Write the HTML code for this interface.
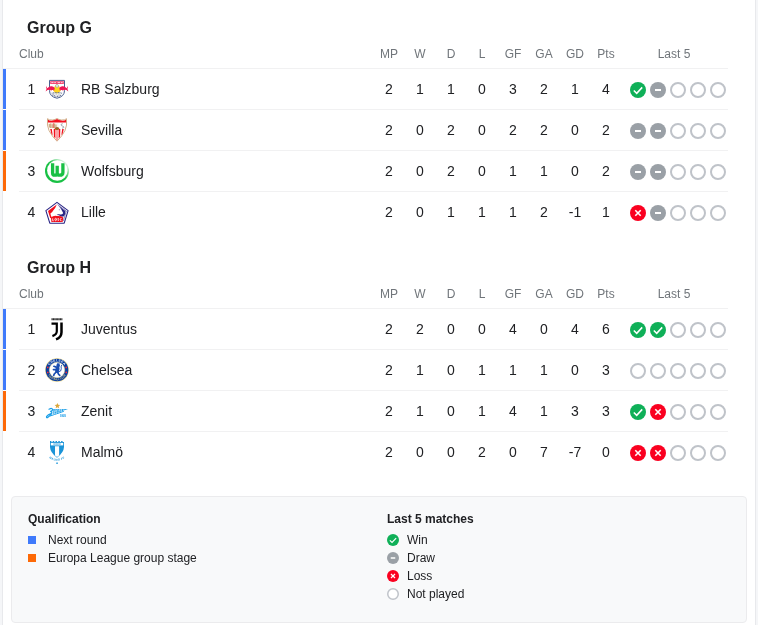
<!DOCTYPE html>
<html lang="en"><head><meta charset="utf-8"><title>Standings</title>
<style>
html,body{margin:0;padding:0}
body{width:758px;height:625px;overflow:hidden;background:#f5f6f8;font-family:"Liberation Sans",sans-serif;color:#202124;position:relative}
.card{position:absolute;left:2px;top:0;width:752px;height:625px;background:#fff;border-left:1px solid #e8e9ec;border-right:1px solid #e8e9ec}
.abs{position:absolute;white-space:nowrap}
.gt{font-weight:bold;font-size:16px;line-height:20px;left:27px;color:#202124}
.hd{font-size:12px;line-height:14px;color:#70757a}
.hc{width:40px;text-align:center}
.row{position:absolute;left:19px;width:709px;height:40px;border-top:1px solid #f1f1f2}
.bar{position:absolute;left:3px;width:3px;height:40px}
.bar.b{background:#3f7afb}.bar.o{background:#fd6907}
.t{font-size:14px;line-height:16px;color:#202124}
.n{width:40px;text-align:center}
.ic{position:absolute;display:block}
.logo{position:absolute;width:26px;height:26px}
.logo svg{display:block}
.legend{position:absolute;left:11px;top:496px;width:734px;height:125px;background:#f8f9fa;border:1px solid #ebebed;border-radius:4px}
.lh{font-weight:bold;font-size:12px;line-height:14px;color:#202124}
.lt{font-size:12px;line-height:14px;color:#202124}
.sq{position:absolute;width:8px;height:8px}
</style></head><body><div class="card"></div><div id="layer" style="position:absolute;left:0;top:0;width:758px;height:625px;will-change:transform">

<div class="abs gt" style="top:18px">Group G</div>
<div class="abs hd" style="left:19px;top:47px">Club</div>
<div class="abs hd hc" style="left:369px;top:47px">MP</div>
<div class="abs hd hc" style="left:400px;top:47px">W</div>
<div class="abs hd hc" style="left:431px;top:47px">D</div>
<div class="abs hd hc" style="left:462px;top:47px">L</div>
<div class="abs hd hc" style="left:493px;top:47px">GF</div>
<div class="abs hd hc" style="left:524px;top:47px">GA</div>
<div class="abs hd hc" style="left:555px;top:47px">GD</div>
<div class="abs hd hc" style="left:586px;top:47px">Pts</div>
<div class="abs hd" style="left:634px;width:80px;text-align:center;top:47px">Last 5</div>
<div class="row" style="top:68px;left:3px;width:725px"></div>
<div class="bar b" style="top:69px"></div>
<div class="abs t n" style="left:11.5px;top:81px">1</div>
<div class="logo" style="left:44px;top:76px"><svg width="26" height="26" viewBox="0 0 26 26"><path d="M5.500 4.400 H20.500 V14.500 Q20.500 20.700 13 22.200 Q5.500 20.700 5.500 14.500 Z" fill="#fff" stroke="#4b5f90" stroke-width="1"/><rect x="6.200" y="5.200" width="13.600" height="2.800" fill="#f2416f"/><path d="M7.300 6.600 h2.200 M10.300 6.600 h1.600 M13.600 6.600 h2.400 M16.800 6.600 h1.800" stroke="#fbd0dc" stroke-width="1"/><path d="M13 8.200 Q15.800 9.500 16.700 14.600 Q15.600 17.300 13 17.400 Q10.400 17.300 9.300 14.600 Q10.200 9.500 13 8.200Z" fill="#ffd51e"/><path transform="translate(1.7 0) scale(.87 1) translate(-1.7 0)" d="M11.900 11.700 Q10.300 9.800 7.600 10.300 Q5 10.900 3.600 12.300 Q2.700 11.600 2.300 9.700 Q1.700 11.700 2.800 13.100 Q2 14 1.700 15.400 Q3.300 13.900 4.800 13.800 Q6.300 14.300 7.200 13.700 L7.800 15.300 L8.500 13.900 Q9.600 14.200 10.600 13.800 L11.200 15.300 L11.700 13.500 Q12.300 12.700 11.900 11.700Z" fill="#ee1653"/><path transform="translate(24.3 0) scale(.87 1) translate(-24.3 0)" d="M14.100 11.700 Q15.700 9.800 18.400 10.300 Q21 10.900 22.400 12.300 Q23.300 11.600 23.700 9.700 Q24.300 11.700 23.200 13.100 Q24 14 24.300 15.400 Q22.700 13.900 21.200 13.800 Q19.700 14.300 18.800 13.700 L18.200 15.300 L17.500 13.900 Q16.400 14.200 15.400 13.800 L14.800 15.300 L14.300 13.500 Q13.700 12.700 14.100 11.700Z" fill="#ee1653"/><circle cx="13" cy="9.900" r="1.500" fill="#e6e7ea" stroke="#7d8492" stroke-width=".45"/><path d="M7.600 17.300 Q13 15.600 18.400 17.300" fill="none" stroke="#6f7891" stroke-width="1.100" stroke-dasharray="1 .6"/><path d="M8.400 18.900 Q13 21.700 17.600 18.900" fill="none" stroke="#6f7891" stroke-width="1.300" stroke-dasharray="1 .6"/><path d="M9 18 H17" fill="none" stroke="#8d95aa" stroke-width="1" stroke-dasharray=".9 .7"/></svg></div>
<div class="abs t" style="left:81px;top:81px">RB Salzburg</div>
<div class="abs t n" style="left:369px;top:81px">2</div>
<div class="abs t n" style="left:400px;top:81px">1</div>
<div class="abs t n" style="left:431px;top:81px">1</div>
<div class="abs t n" style="left:462px;top:81px">0</div>
<div class="abs t n" style="left:493px;top:81px">3</div>
<div class="abs t n" style="left:524px;top:81px">2</div>
<div class="abs t n" style="left:555px;top:81px">1</div>
<div class="abs t n" style="left:586px;top:81px">4</div>
<svg class="ic" style="left:630px;top:82px" width="16" height="16" viewBox="0 0 16 16"><circle cx="8" cy="8" r="8" fill="#0fb058"/><path d="M3.8 8.5 L6.7 11.3 L12.2 5.4" fill="none" stroke="#fff" stroke-width="1.55"/></svg>
<svg class="ic" style="left:650px;top:82px" width="16" height="16" viewBox="0 0 16 16"><circle cx="8" cy="8" r="8" fill="#9aa0a6"/><rect x="5" y="7" width="6" height="2" fill="#fff"/></svg>
<svg class="ic" style="left:670px;top:82px" width="16" height="16" viewBox="0 0 16 16"><circle cx="8" cy="8" r="7" fill="#fff" stroke="#bfc3c9" stroke-width="2"/></svg>
<svg class="ic" style="left:690px;top:82px" width="16" height="16" viewBox="0 0 16 16"><circle cx="8" cy="8" r="7" fill="#fff" stroke="#bfc3c9" stroke-width="2"/></svg>
<svg class="ic" style="left:710px;top:82px" width="16" height="16" viewBox="0 0 16 16"><circle cx="8" cy="8" r="7" fill="#fff" stroke="#bfc3c9" stroke-width="2"/></svg>
<div class="row" style="top:109px"></div>
<div class="bar b" style="top:110px"></div>
<div class="abs t n" style="left:11.5px;top:122px">2</div>
<div class="logo" style="left:44px;top:117px"><svg width="26" height="26" viewBox="0 0 26 26"><path d="M3.500 1.700 Q5 3.300 8.500 3 Q11.300 2.700 13 1.500 Q14.700 2.700 17.500 3 Q21 3.300 22.500 1.700 Q23.300 8.500 21 13.500 Q18 19.500 13 24.200 Q8 19.500 5 13.500 Q2.700 8.500 3.500 1.700Z" fill="#fff" stroke="#c79b6c" stroke-width=".8"/><path d="M4 2.700 Q5.500 3.900 8.500 3.600 Q11.300 3.300 13 2.100 Q14.700 3.300 17.500 3.600 Q20.500 3.900 22 2.700 L22.100 5.600 H3.900Z" fill="#f30f1d"/><path d="M4.300 6 H14.400 V10.600 L13 11.600 H5.200 Q4.300 8.500 4.300 6Z" fill="#fbf3ea"/><path d="M5.300 7 v3.600 M6.700 6.400 v4.600 M8.200 7.200 v3.800 M10.600 6.500 v4.500 M12 7.500 v3" stroke="#c9a276" stroke-width="1.100" fill="none"/><path d="M9.400 6.200 v4.800" stroke="#e2574d" stroke-width=".9"/><path d="M18.700 6.700 q-1.800 0-1.600 1.300 q.2 .9 1.500 1.100 q1.300 .3 1.200 1.200 q-.2 1-1.800 .8" fill="none" stroke="#9a9ca3" stroke-width=".9"/><path d="M6.200 11.900 h1.600 l.9 6.400 -1.400-1.800z M9.700 11.900 h1.700 v9.500 l-1.500-1.700z M14.600 11.900 h1.700 l-.2 7.800 -1.500 1.700z M18.200 11.900 h1.600 l-1.100 4.600 -1.400 1.800z" fill="#f30f1d"/><path d="M12.200 12 h1.600 v10.800 l-.8 .8 -.8-.8z" fill="#f98a90"/><ellipse cx="13" cy="11.400" rx="2.200" ry="1.500" fill="#9c6424"/></svg></div>
<div class="abs t" style="left:81px;top:122px">Sevilla</div>
<div class="abs t n" style="left:369px;top:122px">2</div>
<div class="abs t n" style="left:400px;top:122px">0</div>
<div class="abs t n" style="left:431px;top:122px">2</div>
<div class="abs t n" style="left:462px;top:122px">0</div>
<div class="abs t n" style="left:493px;top:122px">2</div>
<div class="abs t n" style="left:524px;top:122px">2</div>
<div class="abs t n" style="left:555px;top:122px">0</div>
<div class="abs t n" style="left:586px;top:122px">2</div>
<svg class="ic" style="left:630px;top:123px" width="16" height="16" viewBox="0 0 16 16"><circle cx="8" cy="8" r="8" fill="#9aa0a6"/><rect x="5" y="7" width="6" height="2" fill="#fff"/></svg>
<svg class="ic" style="left:650px;top:123px" width="16" height="16" viewBox="0 0 16 16"><circle cx="8" cy="8" r="8" fill="#9aa0a6"/><rect x="5" y="7" width="6" height="2" fill="#fff"/></svg>
<svg class="ic" style="left:670px;top:123px" width="16" height="16" viewBox="0 0 16 16"><circle cx="8" cy="8" r="7" fill="#fff" stroke="#bfc3c9" stroke-width="2"/></svg>
<svg class="ic" style="left:690px;top:123px" width="16" height="16" viewBox="0 0 16 16"><circle cx="8" cy="8" r="7" fill="#fff" stroke="#bfc3c9" stroke-width="2"/></svg>
<svg class="ic" style="left:710px;top:123px" width="16" height="16" viewBox="0 0 16 16"><circle cx="8" cy="8" r="7" fill="#fff" stroke="#bfc3c9" stroke-width="2"/></svg>
<div class="row" style="top:150px"></div>
<div class="bar o" style="top:151px"></div>
<div class="abs t n" style="left:11.5px;top:163px">3</div>
<div class="logo" style="left:44px;top:158px"><svg width="26" height="26" viewBox="0 0 26 26"><defs><linearGradient id="wg" x1="1" y1="0" x2="0.300" y2="0.700"><stop offset="0" stop-color="#18c044" stop-opacity="0"/><stop offset=".28" stop-color="#18c044" stop-opacity=".25"/><stop offset=".7" stop-color="#18c044" stop-opacity="1"/></linearGradient></defs><circle cx="13" cy="13" r="12" fill="url(#wg)"/><circle cx="13.350" cy="12.600" r="10.250" fill="#fff"/><path d="M8.600 5.200 V14.900 Q8.600 17.200 10.800 17.200 Q13.200 17.200 13.200 14.900 V7.800 M13.200 14.900 Q13.200 17.200 15.700 17.200 Q18.900 17.200 18.900 14.400 V5.300" fill="none" stroke="#18c044" stroke-width="3.300" stroke-linejoin="round"/></svg></div>
<div class="abs t" style="left:81px;top:163px">Wolfsburg</div>
<div class="abs t n" style="left:369px;top:163px">2</div>
<div class="abs t n" style="left:400px;top:163px">0</div>
<div class="abs t n" style="left:431px;top:163px">2</div>
<div class="abs t n" style="left:462px;top:163px">0</div>
<div class="abs t n" style="left:493px;top:163px">1</div>
<div class="abs t n" style="left:524px;top:163px">1</div>
<div class="abs t n" style="left:555px;top:163px">0</div>
<div class="abs t n" style="left:586px;top:163px">2</div>
<svg class="ic" style="left:630px;top:164px" width="16" height="16" viewBox="0 0 16 16"><circle cx="8" cy="8" r="8" fill="#9aa0a6"/><rect x="5" y="7" width="6" height="2" fill="#fff"/></svg>
<svg class="ic" style="left:650px;top:164px" width="16" height="16" viewBox="0 0 16 16"><circle cx="8" cy="8" r="8" fill="#9aa0a6"/><rect x="5" y="7" width="6" height="2" fill="#fff"/></svg>
<svg class="ic" style="left:670px;top:164px" width="16" height="16" viewBox="0 0 16 16"><circle cx="8" cy="8" r="7" fill="#fff" stroke="#bfc3c9" stroke-width="2"/></svg>
<svg class="ic" style="left:690px;top:164px" width="16" height="16" viewBox="0 0 16 16"><circle cx="8" cy="8" r="7" fill="#fff" stroke="#bfc3c9" stroke-width="2"/></svg>
<svg class="ic" style="left:710px;top:164px" width="16" height="16" viewBox="0 0 16 16"><circle cx="8" cy="8" r="7" fill="#fff" stroke="#bfc3c9" stroke-width="2"/></svg>
<div class="row" style="top:191px"></div>
<div class="abs t n" style="left:11.5px;top:204px">4</div>
<div class="logo" style="left:44px;top:199px"><svg width="26" height="26" viewBox="0 0 26 26"><path d="M13 3.400 L24.100 11.600 L20.200 24.200 H5.800 L1.900 11.600Z" fill="#fff" stroke="#2b2585" stroke-width="1.100" stroke-linejoin="round"/><path d="M13.600 5.600 L22.300 12.100 L19.300 22" fill="none" stroke="#2b2585" stroke-width=".55"/><path d="M12.800 5.500 L4 12.100 L6.300 19.200 L7.800 18.400 Q6.300 16.500 6.500 14.200 Q8.300 13.600 9 11.800 Q11.600 9 12.800 5.500Z" fill="#f20d1c"/><path d="M14.300 6.600 L21.300 11.900 Q21.700 15.300 19.600 17.500 L16.800 17.400 Q14.800 15.900 12.600 16 Q13.600 14.900 15.300 15.300 Q17.600 16.200 19.300 14.200 Q17.300 9.800 14.300 6.600Z" fill="#2b2585"/><circle cx="15.300" cy="10.800" r=".55" fill="#6a66a8"/><path d="M19.400 12.500 L21.300 12.300 L20.300 16.800 L17.800 17.300 Q19.800 15.300 19.400 12.500Z" fill="#2b2585"/><path d="M6.900 18.600 Q9.500 16.200 13 17 Q16.500 16.600 19.300 18.400 L18.600 22.900 H7.400Z" fill="#f20d1c"/><path d="M8.700 19.300 v2.500 h1 M11.700 19.300 a.75 1.250 0 1 0 .01 0z M14.700 19.500 q-1.100-.2-1 .6 q.2 .6 .9 .8 q.5 .5-.9 .7 M17.500 19.500 q-1.300-.2-1.300 1.100 q0 1.400 1.300 1.100" fill="none" stroke="#fff" stroke-width=".8"/></svg></div>
<div class="abs t" style="left:81px;top:204px">Lille</div>
<div class="abs t n" style="left:369px;top:204px">2</div>
<div class="abs t n" style="left:400px;top:204px">0</div>
<div class="abs t n" style="left:431px;top:204px">1</div>
<div class="abs t n" style="left:462px;top:204px">1</div>
<div class="abs t n" style="left:493px;top:204px">1</div>
<div class="abs t n" style="left:524px;top:204px">2</div>
<div class="abs t n" style="left:555px;top:204px">-1</div>
<div class="abs t n" style="left:586px;top:204px">1</div>
<svg class="ic" style="left:630px;top:205px" width="16" height="16" viewBox="0 0 16 16"><circle cx="8" cy="8" r="8" fill="#fa0120"/><path d="M5.3 5.3 L10.7 10.7 M10.7 5.3 L5.3 10.7" fill="none" stroke="#fff" stroke-width="1.6"/></svg>
<svg class="ic" style="left:650px;top:205px" width="16" height="16" viewBox="0 0 16 16"><circle cx="8" cy="8" r="8" fill="#9aa0a6"/><rect x="5" y="7" width="6" height="2" fill="#fff"/></svg>
<svg class="ic" style="left:670px;top:205px" width="16" height="16" viewBox="0 0 16 16"><circle cx="8" cy="8" r="7" fill="#fff" stroke="#bfc3c9" stroke-width="2"/></svg>
<svg class="ic" style="left:690px;top:205px" width="16" height="16" viewBox="0 0 16 16"><circle cx="8" cy="8" r="7" fill="#fff" stroke="#bfc3c9" stroke-width="2"/></svg>
<svg class="ic" style="left:710px;top:205px" width="16" height="16" viewBox="0 0 16 16"><circle cx="8" cy="8" r="7" fill="#fff" stroke="#bfc3c9" stroke-width="2"/></svg>
<div class="abs gt" style="top:258px">Group H</div>
<div class="abs hd" style="left:19px;top:287px">Club</div>
<div class="abs hd hc" style="left:369px;top:287px">MP</div>
<div class="abs hd hc" style="left:400px;top:287px">W</div>
<div class="abs hd hc" style="left:431px;top:287px">D</div>
<div class="abs hd hc" style="left:462px;top:287px">L</div>
<div class="abs hd hc" style="left:493px;top:287px">GF</div>
<div class="abs hd hc" style="left:524px;top:287px">GA</div>
<div class="abs hd hc" style="left:555px;top:287px">GD</div>
<div class="abs hd hc" style="left:586px;top:287px">Pts</div>
<div class="abs hd" style="left:634px;width:80px;text-align:center;top:287px">Last 5</div>
<div class="row" style="top:308px;left:3px;width:725px"></div>
<div class="bar b" style="top:309px"></div>
<div class="abs t n" style="left:11.5px;top:321px">1</div>
<div class="logo" style="left:44px;top:316px"><svg width="26" height="26" viewBox="0 0 26 26"><path d="M7.500 3.250 H18.400" stroke="#2a2a2a" stroke-width="1.900" stroke-dasharray="1.150 .25" fill="none"/><path d="M7.500 7.600 H12.800 V15.300 Q12.800 18.500 8.400 20.100" fill="none" stroke="#000" stroke-width="2.200"/><path d="M17.500 6.500 V16.200 Q17.500 21.300 12 23.400" fill="none" stroke="#000" stroke-width="2.500"/></svg></div>
<div class="abs t" style="left:81px;top:321px">Juventus</div>
<div class="abs t n" style="left:369px;top:321px">2</div>
<div class="abs t n" style="left:400px;top:321px">2</div>
<div class="abs t n" style="left:431px;top:321px">0</div>
<div class="abs t n" style="left:462px;top:321px">0</div>
<div class="abs t n" style="left:493px;top:321px">4</div>
<div class="abs t n" style="left:524px;top:321px">0</div>
<div class="abs t n" style="left:555px;top:321px">4</div>
<div class="abs t n" style="left:586px;top:321px">6</div>
<svg class="ic" style="left:630px;top:322px" width="16" height="16" viewBox="0 0 16 16"><circle cx="8" cy="8" r="8" fill="#0fb058"/><path d="M3.8 8.5 L6.7 11.3 L12.2 5.4" fill="none" stroke="#fff" stroke-width="1.55"/></svg>
<svg class="ic" style="left:650px;top:322px" width="16" height="16" viewBox="0 0 16 16"><circle cx="8" cy="8" r="8" fill="#0fb058"/><path d="M3.8 8.5 L6.7 11.3 L12.2 5.4" fill="none" stroke="#fff" stroke-width="1.55"/></svg>
<svg class="ic" style="left:670px;top:322px" width="16" height="16" viewBox="0 0 16 16"><circle cx="8" cy="8" r="7" fill="#fff" stroke="#bfc3c9" stroke-width="2"/></svg>
<svg class="ic" style="left:690px;top:322px" width="16" height="16" viewBox="0 0 16 16"><circle cx="8" cy="8" r="7" fill="#fff" stroke="#bfc3c9" stroke-width="2"/></svg>
<svg class="ic" style="left:710px;top:322px" width="16" height="16" viewBox="0 0 16 16"><circle cx="8" cy="8" r="7" fill="#fff" stroke="#bfc3c9" stroke-width="2"/></svg>
<div class="row" style="top:349px"></div>
<div class="bar b" style="top:350px"></div>
<div class="abs t n" style="left:11.5px;top:362px">2</div>
<div class="logo" style="left:44px;top:357px"><svg width="26" height="26" viewBox="0 0 26 26"><defs><path id="cht" d="M4.300 13 A8.700 8.700 0 0 1 21.700 13"/><path id="chb" d="M2.900 13 A10.100 10.100 0 0 0 23.100 13"/></defs><circle cx="13" cy="13" r="12" fill="#fbe8a6"/><circle cx="13" cy="13" r="11.350" fill="#0b3f9f"/><circle cx="13" cy="13" r="7.700" fill="#fff" stroke="#efdc98" stroke-width=".5"/><text font-family="Liberation Sans,sans-serif" font-weight="bold" font-size="3.200" fill="#e9eefb" text-anchor="middle" letter-spacing=".35"><textPath href="#cht" startOffset="50%">CHELSEA</textPath></text><text font-family="Liberation Sans,sans-serif" font-weight="bold" font-size="2.300" fill="#e8cf7a" text-anchor="middle" letter-spacing=".1"><textPath href="#chb" startOffset="50%">FOOTBALL CLUB</textPath></text><g fill="#1a4db0" stroke="#1a4db0" stroke-linecap="round"><circle cx="14.200" cy="8.400" r="1.800" stroke="none"/><path d="M15.200 9.300 Q16.400 12.300 14.500 15.800 L11.300 15.800 Q10.700 12.500 12.300 9.400Z" stroke="none"/><path d="M12.800 10.400 L9.900 9.300 M12.300 12.600 L9.500 12.700 M12.200 15 L10.300 17 L9.700 18.300 M13.700 15.300 L14.600 17.300 L15.800 18.300" fill="none" stroke-width="1.700"/><path d="M14.400 15 Q17.600 14.600 17.300 11.700 Q16.700 9.800 17.500 8.300" fill="none" stroke-width=".9"/><path d="M13.300 6.800 l.8-1 .6 .9 .9-.6" fill="none" stroke-width=".6"/></g><g fill="#ff2a34"><rect x="3" y="9.700" width="1.500" height="1.500"/><rect x="3" y="14.700" width="1.500" height="1.500"/><rect x="21.500" y="9.700" width="1.500" height="1.500"/><rect x="21.500" y="14.700" width="1.500" height="1.500"/></g></svg></div>
<div class="abs t" style="left:81px;top:362px">Chelsea</div>
<div class="abs t n" style="left:369px;top:362px">2</div>
<div class="abs t n" style="left:400px;top:362px">1</div>
<div class="abs t n" style="left:431px;top:362px">0</div>
<div class="abs t n" style="left:462px;top:362px">1</div>
<div class="abs t n" style="left:493px;top:362px">1</div>
<div class="abs t n" style="left:524px;top:362px">1</div>
<div class="abs t n" style="left:555px;top:362px">0</div>
<div class="abs t n" style="left:586px;top:362px">3</div>
<svg class="ic" style="left:630px;top:363px" width="16" height="16" viewBox="0 0 16 16"><circle cx="8" cy="8" r="7" fill="#fff" stroke="#bfc3c9" stroke-width="2"/></svg>
<svg class="ic" style="left:650px;top:363px" width="16" height="16" viewBox="0 0 16 16"><circle cx="8" cy="8" r="7" fill="#fff" stroke="#bfc3c9" stroke-width="2"/></svg>
<svg class="ic" style="left:670px;top:363px" width="16" height="16" viewBox="0 0 16 16"><circle cx="8" cy="8" r="7" fill="#fff" stroke="#bfc3c9" stroke-width="2"/></svg>
<svg class="ic" style="left:690px;top:363px" width="16" height="16" viewBox="0 0 16 16"><circle cx="8" cy="8" r="7" fill="#fff" stroke="#bfc3c9" stroke-width="2"/></svg>
<svg class="ic" style="left:710px;top:363px" width="16" height="16" viewBox="0 0 16 16"><circle cx="8" cy="8" r="7" fill="#fff" stroke="#bfc3c9" stroke-width="2"/></svg>
<div class="row" style="top:390px"></div>
<div class="bar o" style="top:391px"></div>
<div class="abs t n" style="left:11.5px;top:403px">3</div>
<div class="logo" style="left:44px;top:398px"><svg width="26" height="26" viewBox="0 0 26 26"><path d="M13.400 5 l.8 1.850 2 .15 -1.500 1.300 .45 1.950 -1.750-1.050 -1.750 1.050 .45-1.950 -1.500-1.300 2-.15z" fill="#dca73c"/><g fill="none" stroke="#1b9fe8" stroke-linecap="round"><path d="M5 11.200 Q8.300 9.700 8.700 11.400 Q8.600 12.900 6.200 13.500 Q8.600 13.600 7.600 15.600 Q5.800 18.200 3.400 19.700 Q2.100 19.900 2.700 18.300 Q4 16.500 7 15.600" stroke-width="1.250"/><path d="M6.500 17.900 L19.500 13.400" stroke-width="1"/></g><path d="M9.300 10.900 L24 11.100 L9.300 16.300 Z" fill="#1b9fe8"/><path d="M11.300 10.500 L10.300 16.500 M13.300 10.500 L12.500 15.500 M15.500 10.500 L14.900 14.500 M17.800 10.500 L17.300 13.500 M20 10.500 L19.700 12.800 M10.500 13.400 L13 12.700 M14.500 12.300 L17.500 11.800" stroke="#fff" stroke-width=".55" fill="none"/><rect x="16.100" y="16.600" width="5.800" height="2.100" fill="#1b9fe8" opacity=".28"/><text x="16.100" y="18.700" font-family="Liberation Sans,sans-serif" font-weight="bold" font-size="2.900" fill="#2fa5e9" textLength="5.800" lengthAdjust="spacingAndGlyphs">1925</text></svg></div>
<div class="abs t" style="left:81px;top:403px">Zenit</div>
<div class="abs t n" style="left:369px;top:403px">2</div>
<div class="abs t n" style="left:400px;top:403px">1</div>
<div class="abs t n" style="left:431px;top:403px">0</div>
<div class="abs t n" style="left:462px;top:403px">1</div>
<div class="abs t n" style="left:493px;top:403px">4</div>
<div class="abs t n" style="left:524px;top:403px">1</div>
<div class="abs t n" style="left:555px;top:403px">3</div>
<div class="abs t n" style="left:586px;top:403px">3</div>
<svg class="ic" style="left:630px;top:404px" width="16" height="16" viewBox="0 0 16 16"><circle cx="8" cy="8" r="8" fill="#0fb058"/><path d="M3.8 8.5 L6.7 11.3 L12.2 5.4" fill="none" stroke="#fff" stroke-width="1.55"/></svg>
<svg class="ic" style="left:650px;top:404px" width="16" height="16" viewBox="0 0 16 16"><circle cx="8" cy="8" r="8" fill="#fa0120"/><path d="M5.3 5.3 L10.7 10.7 M10.7 5.3 L5.3 10.7" fill="none" stroke="#fff" stroke-width="1.6"/></svg>
<svg class="ic" style="left:670px;top:404px" width="16" height="16" viewBox="0 0 16 16"><circle cx="8" cy="8" r="7" fill="#fff" stroke="#bfc3c9" stroke-width="2"/></svg>
<svg class="ic" style="left:690px;top:404px" width="16" height="16" viewBox="0 0 16 16"><circle cx="8" cy="8" r="7" fill="#fff" stroke="#bfc3c9" stroke-width="2"/></svg>
<svg class="ic" style="left:710px;top:404px" width="16" height="16" viewBox="0 0 16 16"><circle cx="8" cy="8" r="7" fill="#fff" stroke="#bfc3c9" stroke-width="2"/></svg>
<div class="row" style="top:431px"></div>
<div class="abs t n" style="left:11.5px;top:444px">4</div>
<div class="logo" style="left:44px;top:439px"><svg width="26" height="26" viewBox="0 0 26 26"><defs><path id="mfa" d="M5.300 19.200 Q13 24.200 20.700 19.200"/></defs><path d="M6 2 h1.400 v.9 h1.300 v-.9 h1.500 v.9 h1.300 v-.9 h1.500 v.9 h1.300 v-.9 h1.500 v.9 h1.300 v-.9 h1.500 v.9 h1.400 v-.9 V8 Q19.800 13.500 13 18.700 Q6.200 13.500 6 8Z" fill="#1b94d8"/><rect x="6.800" y="3.900" width="12.400" height="2.500" fill="#fff"/><rect x="9.300" y="4.200" width="7.400" height="1.900" fill="#7cc3ea"/><path d="M10 4.500 v1.300 M11.400 4.500 v1.300 M13 4.500 v1.300 M14.600 4.500 v1.300 M16 4.500 v1.300" stroke="#fff" stroke-width=".5"/><path d="M11 7.200 h4.100 v9.300 L13 18 l-2-1.500z" fill="#fff"/><text font-family="Liberation Sans,sans-serif" font-weight="bold" font-size="2.800" fill="#2398da" text-anchor="middle" letter-spacing=".3"><textPath href="#mfa" startOffset="50%">MALMÖ FF</textPath></text><rect x="12.100" y="23.500" width="1.900" height="1.300" rx=".4" fill="#1b94d8"/></svg></div>
<div class="abs t" style="left:81px;top:444px">Malmö</div>
<div class="abs t n" style="left:369px;top:444px">2</div>
<div class="abs t n" style="left:400px;top:444px">0</div>
<div class="abs t n" style="left:431px;top:444px">0</div>
<div class="abs t n" style="left:462px;top:444px">2</div>
<div class="abs t n" style="left:493px;top:444px">0</div>
<div class="abs t n" style="left:524px;top:444px">7</div>
<div class="abs t n" style="left:555px;top:444px">-7</div>
<div class="abs t n" style="left:586px;top:444px">0</div>
<svg class="ic" style="left:630px;top:445px" width="16" height="16" viewBox="0 0 16 16"><circle cx="8" cy="8" r="8" fill="#fa0120"/><path d="M5.3 5.3 L10.7 10.7 M10.7 5.3 L5.3 10.7" fill="none" stroke="#fff" stroke-width="1.6"/></svg>
<svg class="ic" style="left:650px;top:445px" width="16" height="16" viewBox="0 0 16 16"><circle cx="8" cy="8" r="8" fill="#fa0120"/><path d="M5.3 5.3 L10.7 10.7 M10.7 5.3 L5.3 10.7" fill="none" stroke="#fff" stroke-width="1.6"/></svg>
<svg class="ic" style="left:670px;top:445px" width="16" height="16" viewBox="0 0 16 16"><circle cx="8" cy="8" r="7" fill="#fff" stroke="#bfc3c9" stroke-width="2"/></svg>
<svg class="ic" style="left:690px;top:445px" width="16" height="16" viewBox="0 0 16 16"><circle cx="8" cy="8" r="7" fill="#fff" stroke="#bfc3c9" stroke-width="2"/></svg>
<svg class="ic" style="left:710px;top:445px" width="16" height="16" viewBox="0 0 16 16"><circle cx="8" cy="8" r="7" fill="#fff" stroke="#bfc3c9" stroke-width="2"/></svg>
<div class="legend"></div>
<div class="abs lh" style="left:28px;top:512px">Qualification</div>
<div class="sq" style="left:28px;top:536px;background:#3f7afb"></div><div class="abs lt" style="left:48px;top:533px">Next round</div>
<div class="sq" style="left:28px;top:554px;background:#fd6907"></div><div class="abs lt" style="left:48px;top:551px">Europa League group stage</div>
<div class="abs lh" style="left:387px;top:512px">Last 5 matches</div>
<svg class="ic" style="left:387px;top:534px" width="12" height="12" viewBox="0 0 16 16"><circle cx="8" cy="8" r="8" fill="#0fb058"/><path d="M3.8 8.5 L6.7 11.3 L12.2 5.4" fill="none" stroke="#fff" stroke-width="1.55"/></svg>
<div class="abs lt" style="left:407px;top:533px">Win</div>
<svg class="ic" style="left:387px;top:552px" width="12" height="12" viewBox="0 0 16 16"><circle cx="8" cy="8" r="8" fill="#9aa0a6"/><rect x="5" y="7" width="6" height="2" fill="#fff"/></svg>
<div class="abs lt" style="left:407px;top:551px">Draw</div>
<svg class="ic" style="left:387px;top:570px" width="12" height="12" viewBox="0 0 16 16"><circle cx="8" cy="8" r="8" fill="#fa0120"/><path d="M5.3 5.3 L10.7 10.7 M10.7 5.3 L5.3 10.7" fill="none" stroke="#fff" stroke-width="1.6"/></svg>
<div class="abs lt" style="left:407px;top:569px">Loss</div>
<svg class="ic" style="left:387px;top:588px" width="12" height="12" viewBox="0 0 16 16"><circle cx="8" cy="8" r="7" fill="#fff" stroke="#bfc3c9" stroke-width="2"/></svg>
<div class="abs lt" style="left:407px;top:587px">Not played</div>
</div></body></html>
